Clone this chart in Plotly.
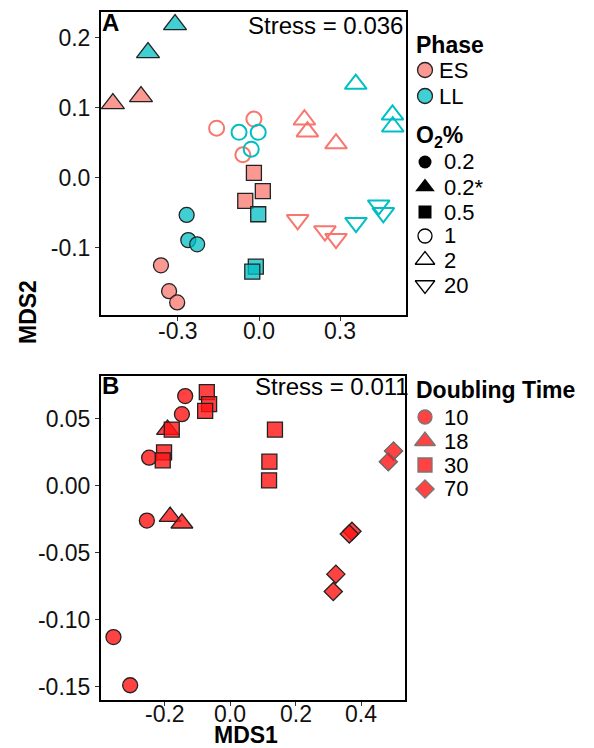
import plotly.graph_objects as go

W, H = 594, 748
FONT = "Liberation Sans, Arial, sans-serif"

# ---------------- Panel A data ----------------
# each group: phase, O2 level, x list, y list
a_groups = [
    ("ES", "0.2",  [-0.363, -0.333, -0.303], [-0.125, -0.162, -0.178]),
    ("LL", "0.2",  [-0.268, -0.262, -0.229], [-0.053, -0.089, -0.095]),
    ("ES", "0.2*", [-0.541, -0.437], [0.106, 0.116]),
    ("LL", "0.2*", [-0.311, -0.411], [0.219, 0.179]),
    ("ES", "0.5",  [-0.019, 0.014, -0.051], [0.007, -0.019, -0.033]),
    ("LL", "0.5",  [-0.003, -0.012, -0.025], [-0.052, -0.127, -0.134]),
    ("ES", "1",    [-0.157, -0.019, -0.060], [0.071, 0.084, 0.033]),
    ("LL", "1",    [-0.074, -0.003, -0.029], [0.065, 0.065, 0.041]),
    ("ES", "2",    [0.168, 0.179, 0.285], [0.083, 0.066, 0.049]),
    ("LL", "2",    [0.358, 0.494, 0.495], [0.134, 0.090, 0.073]),
    ("ES", "20",   [0.143, 0.244, 0.285], [-0.060, -0.076, -0.087]),
    ("LL", "20",   [0.359, 0.443, 0.460], [-0.064, -0.039, -0.050]),
]
a_xticks = [-0.3, 0.0, 0.3]
a_xticklabels = ["-0.3", "0.0", "0.3"]
a_yticks = [-0.1, 0.0, 0.1, 0.2]
a_yticklabels = ["-0.1", "0.0", "0.1", "0.2"]
phases = ["ES", "LL"]
o2_levels = ["0.2", "0.2*", "0.5", "1", "2", "20"]

# ---------------- Panel B data ----------------
b_groups = [
    ("10", [-0.137, -0.147, -0.247, -0.254, -0.356, -0.305],
           [0.067, 0.0535, 0.021, -0.026, -0.113, -0.149]),
    ("18", [-0.191, -0.183, -0.147], [0.042, -0.023, -0.028]),
    ("30", [-0.071, -0.064, -0.076, -0.178, -0.2015, -0.2055, 0.137, 0.120, 0.119],
           [0.070, 0.061, 0.056, 0.042, 0.025, 0.019, 0.042, 0.018, 0.004]),
    ("70", [0.499, 0.483, 0.372, 0.364, 0.323, 0.315],
           [0.026, 0.018, -0.034, -0.036, -0.066, -0.079]),
]
b_xticks = [-0.2, 0.0, 0.2, 0.4]
b_xticklabels = ["-0.2", "0.0", "0.2", "0.4"]
b_yticks = [-0.15, -0.10, -0.05, 0.0, 0.05]
b_yticklabels = ["-0.15", "-0.10", "-0.05", "0.00", "0.05"]
doubling = ["10", "18", "30", "70"]

# ---------------- styles ----------------
phase_fill = {"ES": "rgba(248,118,109,0.75)", "LL": "rgba(0,191,196,0.75)"}
phase_line = {"ES": "#F8766D", "LL": "#00BFC4"}
o2_symbol = {"0.2": "circle", "0.2*": "triangle-up", "0.5": "square",
             "1": "circle-open", "2": "triangle-up-open", "20": "triangle-down-open"}
o2_size = {"0.2": 15, "0.2*": 20, "0.5": 15, "1": 15, "2": 19, "20": 19}
dt_symbol = {"10": "circle", "18": "triangle-up", "30": "square", "70": "diamond"}
dt_size = {"10": 15, "18": 19, "30": 15, "70": 14}
red_fill = "rgba(255,20,20,0.8)"

fig = go.Figure()

# Panel A
for ph, o2, xs, ys in a_groups:
    sym = o2_symbol[o2]
    if sym.endswith("open"):
        marker = dict(symbol=sym, size=o2_size[o2], color=phase_line[ph],
                      line=dict(width=2, color=phase_line[ph]))
    else:
        marker = dict(symbol=sym, size=o2_size[o2], color=phase_fill[ph],
                      line=dict(width=1.3, color="#222222"))
    fig.add_trace(go.Scatter(x=xs, y=ys, mode="markers", marker=marker,
                             xaxis="x", yaxis="y", showlegend=False))

# Panel B
for dt, xs, ys in b_groups:
    lc = ["#666666" if x > 0.45 else "#222222" for x in xs]
    fig.add_trace(go.Scatter(x=xs, y=ys, mode="markers",
                             marker=dict(symbol=dt_symbol[dt], size=dt_size[dt], color=red_fill,
                                         line=dict(width=1.3, color=lc)),
                             xaxis="x2", yaxis="y2", showlegend=False))

# ---------------- layout geometry (pixels) ----------------
def px_x(a, b):
    return [a / W, b / W]

def px_y(top, bottom):
    return [1 - bottom / H, 1 - top / H]

axis_common = dict(showline=True, linewidth=2, linecolor="black", mirror=True,
                   ticks="outside", ticklen=4, tickwidth=1.2, tickcolor="#333333",
                   showgrid=False, zeroline=False, automargin=False,
                   tickfont=dict(family=FONT, size=23, color="#111111"))

fig.update_layout(
    width=W, height=H, margin=dict(l=0, r=0, t=0, b=0, autoexpand=False),
    plot_bgcolor="rgba(0,0,0,0)", paper_bgcolor="white",
    xaxis=dict(domain=px_x(101, 406), range=[-0.585, 0.544], anchor="y",
               tickvals=a_xticks, showticklabels=False, **axis_common),
    yaxis=dict(domain=px_y(12, 315), range=[-0.196, 0.237], anchor="x",
               tickvals=a_yticks, ticktext=a_yticklabels, **axis_common),
    xaxis2=dict(domain=px_x(101, 405), range=[-0.394, 0.534], anchor="y2",
                tickvals=b_xticks, showticklabels=False, **axis_common),
    yaxis2=dict(domain=px_y(376, 700), range=[-0.160, 0.082], anchor="x2",
                tickvals=b_yticks, ticktext=b_yticklabels, **axis_common),
    # overlay axes in pixel units for the legends
    xaxis3=dict(domain=[0, 1], range=[0, W], visible=False, anchor="y3", fixedrange=True),
    yaxis3=dict(domain=[0, 1], range=[H, 0], visible=False, anchor="x3", fixedrange=True),
)

# ---------------- legends ----------------
leg_x_sym = 425
# Phase legend
phase_rows = [70, 96]
fig.add_trace(go.Scatter(x=[leg_x_sym] * len(phases), y=phase_rows, mode="markers",
                         marker=dict(symbol="circle", size=15,
                                     color=[phase_fill[p] for p in phases],
                                     line=dict(width=1.3, color="#222222")),
                         xaxis="x3", yaxis="y3", showlegend=False, hoverinfo="skip"))
# O2 legend
o2_rows = [162, 187, 212, 236, 260, 285]
for lvl, yy in zip(o2_levels, o2_rows):
    sym = o2_symbol[lvl]
    if sym.endswith("open"):
        mk = dict(symbol=sym, size=17 if "triangle" in sym else 14, color="black",
                  line=dict(width=1.3, color="black"))
    else:
        mk = dict(symbol=sym, size=17 if "triangle" in sym else 13, color="black",
                  line=dict(width=0, color="black"))
    fig.add_trace(go.Scatter(x=[leg_x_sym], y=[yy], mode="markers", marker=mk,
                             xaxis="x3", yaxis="y3", showlegend=False, hoverinfo="skip"))
# Doubling legend
dt_rows = [417, 441, 465, 489]
dt_leg_size = {"10": 14, "18": 18, "30": 14, "70": 14}
for dt, yy in zip(doubling, dt_rows):
    fig.add_trace(go.Scatter(x=[leg_x_sym], y=[yy], mode="markers",
                             marker=dict(symbol=dt_symbol[dt], size=dt_leg_size[dt],
                                         color="rgba(255,20,20,0.8)",
                                         line=dict(width=1.3, color="#777777")),
                             xaxis="x3", yaxis="y3", showlegend=False, hoverinfo="skip"))

ann = []
def txt(x, y, s, size=24, bold=False, xanchor="left", angle=0, color="black"):
    ann.append(dict(x=x / W, y=1 - y / H, xref="paper", yref="paper", text=f"<b>{s}</b>" if bold else s,
                    showarrow=False, xanchor=xanchor, yanchor="middle", textangle=angle,
                    borderpad=0,
                    font=dict(family=FONT, size=size, color=color)))

# x tick labels (placed under their axes through the axis scale)
for v, lab in zip(a_xticks, a_xticklabels):
    ann.append(dict(x=v, xref="x", y=1 - 331 / H, yref="paper", text=lab, showarrow=False,
                    xanchor="center", yanchor="middle", borderpad=0,
                    font=dict(family=FONT, size=23, color="#111111")))
for v, lab in zip(b_xticks, b_xticklabels):
    ann.append(dict(x=v, xref="x2", y=1 - 714 / H, yref="paper", text=lab, showarrow=False,
                    xanchor="center", yanchor="middle", borderpad=0,
                    font=dict(family=FONT, size=23, color="#111111")))

txt(415, 45, "Phase", size=23, bold=True)
for p, yy in zip(phases, phase_rows):
    txt(438, yy, p, size=22)
txt(415, 137, "O<sub>2</sub>%", size=23, bold=True)
for lvl, yy in zip(o2_levels, o2_rows):
    txt(443, yy, lvl, size=22)
txt(415, 390, "Doubling Time", size=23, bold=True)
for dt, yy in zip(doubling, dt_rows):
    txt(443, yy, dt, size=22)

# panel labels and stress
txt(101, 22, "A", bold=True)
txt(404, 25, "Stress = 0.036", xanchor="right")
txt(101, 386, "B", bold=True)
txt(410, 387, "Stress = 0.011", xanchor="right")
# axis titles
txt(28, 312, "MDS2", size=23, bold=True, xanchor="center", angle=-90)
txt(246, 735, "MDS1", size=23, bold=True, xanchor="center")

fig.update_layout(annotations=ann)
fig.write_html("out.html", config={"displayModeBar": False},
               post_script="document.body.style.margin='0';")
